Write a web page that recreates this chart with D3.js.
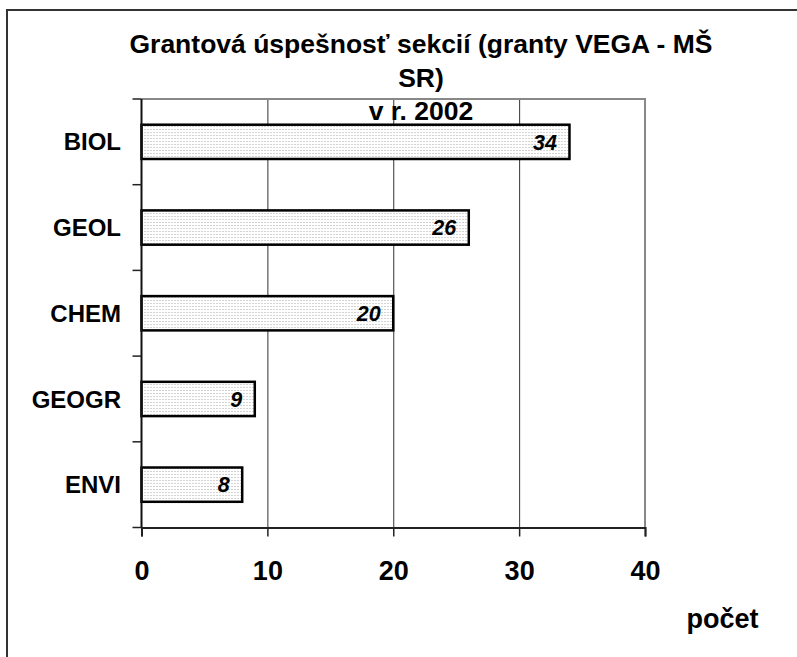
<html>
<head>
    <title>Grantová úspešnosť sekcií</title>
    <meta charset="UTF-8" />
    <script src="https://d3js.org/d3.v7.min.js"></script>

    <style>
        body {
            margin: 0;
            background: white;
        }
        text {
            font-family: "Liberation Sans", Arial, sans-serif;
            font-weight: bold;
            fill: black;
        }
        .gridlines line {
            stroke: #333;
            stroke-width: 1;
        }
        .gridlines .domain {
            stroke: none;
        }
    </style>
</head>

<body>
    <svg height="657" width="797" id="svg"></svg>

    <script>

        // data
        const sections = ["BIOL", "GEOL", "CHEM", "GEOGR", "ENVI"];
        const grants = [34, 26, 20, 9, 8];
        const xTicks = [0, 10, 20, 30, 40];
        const titleLines = ["Grantová úspešnosť sekcií (granty VEGA - MŠ", "SR)", "v r. 2002"];
        const xTitle = "počet";

        // setting up svg
        const svg = d3.select('svg#svg');

        const margin = {top: 99, left: 141.5, right: 645, bottom: 527.5};
        const chartWidth = margin.right - margin.left;
        const chartHeight = margin.bottom - margin.top;

        // outer frame (right and bottom edges fall outside the picture)
        svg.append("rect")
            .attr("x", 7).attr("y", 10)
            .attr("width", 820).attr("height", 700)
            .attr("fill", "white")
            .attr("stroke", "#333")
            .attr("stroke-width", 2);

        // dotted fill for the bars
        const pattern = svg.append("defs").append("pattern")
            .attr("id", "dots")
            .attr("patternUnits", "userSpaceOnUse")
            .attr("width", 3).attr("height", 3);
        pattern.append("rect").attr("width", 3).attr("height", 3).attr("fill", "white");
        pattern.append("rect").attr("width", 1).attr("height", 1).attr("fill", "#a8a8a8");

        // scales
        const xScale = d3.scaleLinear().domain([0, 40]).range([0, chartWidth]);
        const yScale = d3.scaleBand().domain(sections).range([0, chartHeight])
                            .paddingInner(0.6).paddingOuter(0.3);

        let chartArea = svg.append("g")
            .attr("transform", "translate(" + margin.left + "," + margin.top + ")");

        // vertical gridlines
        let gridlines = d3.axisBottom(xScale)
            .tickValues(xTicks.slice(1, -1))
            .tickSize(-chartHeight)
            .tickFormat("");
        chartArea.append("g")
            .attr("class", "gridlines")
            .attr("transform", "translate(0," + chartHeight + ")")
            .call(gridlines);

        // top and right edge of plot area (gray)
        chartArea.append("path")
            .attr("d", "M0,0H" + chartWidth + "V" + chartHeight)
            .attr("fill", "none")
            .attr("stroke", "#888")
            .attr("stroke-width", 2);

        // bars
        chartArea.selectAll("rect.bar").data(grants)
            .join("rect")
            .attr("class", "bar")
            .attr("x", 0)
            .attr("y", (d, i) => yScale(sections[i]))
            .attr("width", d => xScale(d))
            .attr("height", yScale.bandwidth())
            .attr("fill", "url(#dots)")
            .attr("stroke", "black")
            .attr("stroke-width", 2.5);

        // value labels
        chartArea.selectAll("text.value").data(grants)
            .join("text")
            .attr("class", "value")
            .attr("x", d => xScale(d) - 12.5)
            .attr("y", (d, i) => yScale(sections[i]) + yScale.bandwidth() / 2)
            .attr("dy", "0.36em")
            .attr("text-anchor", "end")
            .attr("font-style", "italic")
            .attr("font-size", 21.5)
            .text(d => d);

        // bottom axis
        let bottomAxis = d3.axisBottom(xScale)
            .tickValues(xTicks)
            .tickSize(9)
            .tickPadding(0)
            .tickFormat(d3.format("d"));
        let xAxis = chartArea.append("g")
            .attr("transform", "translate(0," + chartHeight + ")")
            .call(bottomAxis);
        xAxis.select(".domain").attr("stroke", "#222").attr("stroke-width", 2);
        xAxis.selectAll(".tick line").attr("stroke", "#222").attr("stroke-width", 1.5);
        xAxis.selectAll(".tick text")
            .attr("y", 52.5)
            .attr("dy", 0)
            .attr("font-size", 27)
            .attr("font-family", "Liberation Sans, Arial, sans-serif")
            .attr("font-weight", "bold")
            .attr("fill", "black");

        // left axis: ticks sit on the band boundaries
        let leftAxis = chartArea.append("g");
        leftAxis.append("line")
            .attr("x1", 0).attr("x2", 0)
            .attr("y1", 0).attr("y2", chartHeight)
            .attr("stroke", "#111").attr("stroke-width", 2);
        leftAxis.selectAll("line.tick").data(d3.range(sections.length + 1))
            .join("line")
            .attr("class", "tick")
            .attr("x1", -9).attr("x2", 0)
            .attr("y1", i => i * yScale.step())
            .attr("y2", i => i * yScale.step())
            .attr("stroke", "#222").attr("stroke-width", 1.5);
        leftAxis.selectAll("text.cat").data(sections)
            .join("text")
            .attr("class", "cat")
            .attr("x", -20.5)
            .attr("y", d => yScale(d) + yScale.bandwidth() / 2)
            .attr("dy", "0.36em")
            .attr("text-anchor", "end")
            .attr("font-size", 24)
            .text(d => d);

        // title
        svg.append("g").selectAll("text").data(titleLines)
            .join("text")
            .attr("x", 421)
            .attr("y", (d, i) => 53 + i * 33.5)
            .attr("text-anchor", "middle")
            .attr("font-size", 26.5)
            .text(d => d);

        // x axis title
        svg.append("text")
            .attr("x", 722.5)
            .attr("y", 628)
            .attr("text-anchor", "middle")
            .attr("font-size", 27)
            .text(xTitle);

    </script>

</body>
</html>
